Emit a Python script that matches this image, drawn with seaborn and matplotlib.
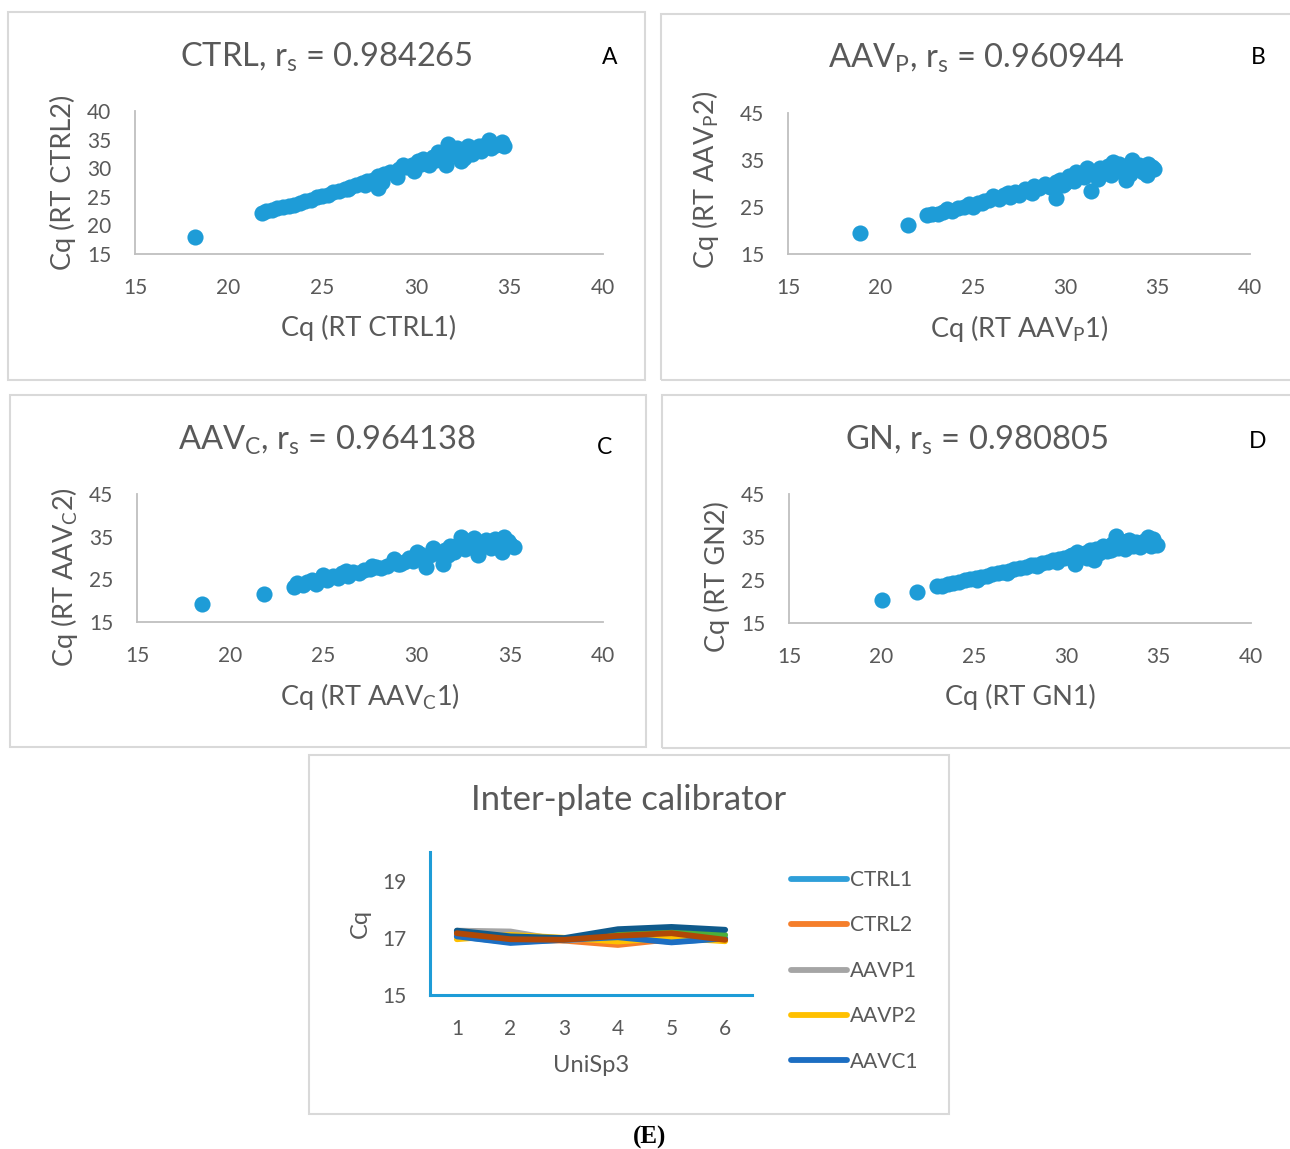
import numpy as np
import pandas as pd
import matplotlib
matplotlib.use("Agg")
import matplotlib.pyplot as plt
import matplotlib.patches as patches
import seaborn as sns

sns.set_style("white")
plt.rcParams['font.family'] = ['Lato', 'DejaVu Sans']
plt.rcParams['mathtext.fontset'] = 'custom'
plt.rcParams['mathtext.rm'] = 'Lato'

# ---- data ----
# panel A: CTRL
ctrl1 = [18.2, 21.8, 22.0, 22.3, 22.6, 22.9, 23.2, 23.5, 23.8, 24.1, 24.4, 24.7, 25.0, 25.3, 25.6,
         25.9, 26.2, 26.5, 26.8, 27.1, 27.4, 27.7, 28.0, 28.0, 28.2, 28.3, 28.6, 28.9, 29.1, 29.3,
         29.5, 29.8, 29.9, 30.1, 30.3, 30.5, 30.7, 30.9, 31.1, 31.3, 31.5, 31.6, 31.7, 31.8, 32.0,
         32.2, 32.4, 32.5, 32.8, 33.0, 33.2, 33.5, 33.7, 33.9, 34.0, 34.3, 34.6, 34.7,
         26.4, 27.3, 29.0, 30.4, 31.2, 32.6, 33.4]
ctrl2 = [18.0, 22.2, 22.5, 22.7, 23.0, 23.2, 23.4, 23.5, 23.9, 24.2, 24.5, 24.9, 25.1, 25.4, 25.8,
         26.0, 26.4, 26.8, 27.1, 27.4, 27.8, 28.0, 28.6, 26.5, 27.5, 29.0, 29.4, 29.3, 29.8, 30.6,
         30.2, 30.5, 29.5, 31.2, 30.7, 31.3, 30.5, 32.0, 31.5, 32.6, 32.0, 30.6, 34.3, 33.0, 32.5,
         33.5, 31.3, 33.2, 33.8, 32.5, 33.4, 33.0, 34.0, 35.0, 33.5, 34.0, 34.6, 33.9,
         26.3, 27.0, 28.5, 31.6, 32.9, 31.8, 33.9]

# panel B: AAV_P
aavp1 = [18.9, 21.5, 22.5, 22.8, 23.1, 23.4, 23.6, 23.9, 24.2, 24.5, 24.8, 25.0, 25.3, 25.6, 25.9,
         26.1, 26.4, 26.7, 27.0, 27.3, 27.5, 27.8, 28.0, 28.3, 28.6, 28.9, 29.2, 29.5, 29.5, 29.7,
         30.0, 30.2, 30.5, 30.8, 31.0, 31.2, 31.4, 31.5, 31.7, 31.9, 32.1, 32.3, 32.5, 32.7, 32.9,
         33.1, 33.3, 33.4, 33.6, 33.8, 34.0, 34.2, 34.4, 34.5, 34.7, 34.8,
         25.5, 26.9, 28.2, 29.9, 30.6, 31.8, 32.6, 33.5]
aavp2 = [19.4, 21.2, 23.3, 23.6, 23.5, 24.0, 24.6, 24.2, 24.8, 25.0, 25.6, 24.9, 25.8, 26.2, 26.5,
         27.3, 26.7, 27.6, 27.1, 28.2, 27.6, 28.9, 28.4, 29.5, 29.0, 29.8, 29.2, 26.9, 30.3, 30.8,
         30.2, 31.5, 30.6, 32.0, 31.3, 33.4, 28.3, 32.3, 31.6, 33.2, 32.6, 33.7, 31.8, 33.0, 34.1,
         32.5, 30.7, 33.6, 35.0, 33.0, 33.9, 32.5, 31.8, 34.2, 33.5, 33.0,
         25.9, 27.9, 28.0, 29.6, 32.4, 30.9, 34.5, 32.0]

# panel C: AAV_C
aavc1 = [18.5, 21.8, 23.4, 23.6, 23.9, 24.1, 24.4, 24.6, 24.9, 25.2, 25.5, 25.8, 26.0, 26.3, 26.6,
         26.9, 27.2, 27.5, 27.8, 28.1, 28.4, 28.8, 29.0, 29.3, 29.6, 29.8, 30.0, 30.3, 30.5, 30.7,
         30.9, 31.1, 31.4, 31.5, 31.8, 32.0, 32.3, 32.4, 32.6, 32.9, 33.1, 33.3, 33.4, 33.7, 33.9,
         34.2, 34.4, 34.6, 34.7, 34.9, 35.2, 35.0,
         25.0, 26.2, 27.6, 29.1, 30.2, 31.7, 32.8, 34.0]
aavc2 = [19.3, 21.5, 23.3, 24.2, 23.6, 24.4, 24.9, 24.0, 25.4, 24.8, 25.7, 25.3, 26.5, 25.8, 26.8,
         26.4, 27.2, 27.5, 27.9, 27.6, 28.1, 29.8, 28.5, 29.0, 30.1, 29.3, 31.5, 30.4, 27.8, 30.8,
         32.3, 31.2, 28.7, 31.8, 32.7, 31.4, 33.3, 35.0, 32.1, 33.6, 34.8, 30.7, 33.0, 34.2, 33.2,
         34.5, 33.6, 31.5, 35.0, 33.9, 32.6, 33.3,
         25.9, 26.9, 28.2, 28.6, 31.0, 30.6, 33.9, 32.4]

# panel D: GN
gn1 = [20.05, 21.9, 23.0, 23.3, 23.6, 23.9, 24.2, 24.5, 24.8, 25.1, 25.4, 25.7, 26.0, 26.3, 26.6,
       26.9, 27.2, 27.5, 27.8, 28.1, 28.4, 28.7, 29.0, 29.3, 29.6, 29.9, 30.2, 30.5, 30.6, 30.8,
       31.0, 31.3, 31.5, 31.6, 31.8, 32.0, 32.2, 32.5, 32.7, 32.8, 33.0, 33.2, 33.4, 33.6, 33.8,
       34.0, 34.2, 34.4, 34.5, 34.7, 34.9, 34.6,
       25.2, 26.8, 28.3, 29.5, 30.3, 31.1, 32.4, 33.3]
gn2 = [20.3, 22.2, 23.5, 23.6, 24.0, 24.3, 24.6, 24.9, 25.2, 25.5, 25.8, 26.0, 26.4, 26.6, 26.9,
       27.2, 27.5, 27.7, 28.0, 28.4, 28.2, 28.9, 29.2, 29.6, 29.9, 30.1, 30.6, 28.7, 31.5, 30.5,
       31.3, 31.9, 29.6, 32.3, 31.2, 32.8, 31.8, 33.4, 35.2, 32.4, 33.8, 32.1, 34.3, 33.0, 33.8,
       32.6, 34.0, 35.0, 33.3, 34.6, 33.1, 32.8,
       25.0, 26.7, 28.6, 29.2, 30.9, 30.2, 32.0, 34.0]

# panel E: inter-plate calibrator UniSp3
runs = [1, 2, 3, 4, 5, 6]
series_names = ['CTRL1', 'CTRL2', 'AAVP1', 'AAVP2', 'AAVC1', 'AAVC2', 'GN1', 'GN2']
cq_ctrl1 = [17.05, 16.85, 16.93, 17.02, 16.86, 16.98]
cq_ctrl2 = [17.10, 16.95, 16.90, 16.75, 16.95, 16.95]
cq_aavp1 = [17.25, 17.22, 16.90, 17.05, 17.10, 16.95]
cq_aavp2 = [16.95, 17.10, 17.00, 16.87, 17.00, 16.88]
cq_aavc1 = [17.05, 16.82, 16.93, 17.02, 16.84, 16.98]
cq_aavc2 = [17.20, 17.00, 16.95, 17.15, 17.20, 17.10]
cq_gn1 = [17.25, 17.05, 16.99, 17.30, 17.38, 17.28]
cq_gn2 = [17.16, 16.95, 16.93, 17.07, 17.16, 16.93]
line_colors = ['#2E9FD9', '#F57E2A', '#A5A5A5', '#FFC000', '#1C6EC2', '#4CAF3A', '#0F5A8C', '#B04806']

W, H = 1290, 1149
grey = '#595959'
dot = '#1E9CD7'

fig = plt.figure(figsize=(W / 100, H / 100), dpi=100)


def fx(x):
    return x / W


def fy(y):
    return 1 - y / H


def box(x0, y0, x1, y1):
    fig.add_artist(patches.Rectangle((fx(x0), fy(y1)), fx(x1) - fx(x0), fy(y0) - fy(y1),
                                     transform=fig.transFigure, fill=False,
                                     edgecolor='#D9D9D9', linewidth=1.5))


def axes_px(left, right, top, bottom):
    return fig.add_axes([fx(left), fy(bottom), fx(right) - fx(left), fy(top) - fy(bottom)])


def style_ax(ax, spine_color='#BFBFBF', lw=1.3, pad=17, size=15):
    for s in ['top', 'right']:
        ax.spines[s].set_visible(False)
    for s in ['left', 'bottom']:
        ax.spines[s].set_color(spine_color)
        ax.spines[s].set_linewidth(lw)
    ax.tick_params(length=0, labelsize=size, labelcolor=grey, pad=pad)
    ax.set_xlabel('')
    ax.set_ylabel('')
    ax.grid(False)
    ax.set_facecolor('none')


scatters = [
    dict(x=ctrl1, y=ctrl2, pos=(135, 603, 111, 254), ylim=(15, 40), yt=[15, 20, 25, 30, 35, 40],
         box=(8, 12, 645, 380), title='CTRL, r$_\\mathregular{s}$ = 0.984265', tpos=(326, 57),
         letter='A', lpos=(610, 57), xl='Cq (RT CTRL1)', xlpos=(369, 328),
         yl='Cq (RT CTRL2)', ylpos=(63, 182)),
    dict(x=aavp1, y=aavp2, pos=(788, 1250, 113, 254), ylim=(15, 45), yt=[15, 25, 35, 45],
         box=(661, 14, 1295, 380), title='AAV$_\\mathregular{P}$, r$_\\mathregular{s}$ = 0.960944',
         tpos=(976, 58), letter='B', lpos=(1258, 58), xl='Cq (RT AAV$_\\mathregular{P}$1)',
         xlpos=(1019, 329), yl='Cq (RT AAV$_\\mathregular{P}$2)', ylpos=(706, 180)),
    dict(x=aavc1, y=aavc2, pos=(137, 603, 494, 622), ylim=(15, 45), yt=[15, 25, 35, 45],
         box=(10, 395, 646, 747), title='AAV$_\\mathregular{C}$, r$_\\mathregular{s}$ = 0.964138',
         tpos=(327, 440), letter='C', lpos=(605, 448), xl='Cq (RT AAV$_\\mathregular{C}$1)',
         xlpos=(370, 696), yl='Cq (RT AAV$_\\mathregular{C}$2)', ylpos=(65, 577)),
    dict(x=gn1, y=gn2, pos=(789, 1251, 494, 623), ylim=(15, 45), yt=[15, 25, 35, 45],
         box=(662, 395, 1295, 748), title='GN, r$_\\mathregular{s}$ = 0.980805',
         tpos=(977, 440), letter='D', lpos=(1258, 441), xl='Cq (RT GN1)',
         xlpos=(1020, 697), yl='Cq (RT GN2)', ylpos=(717, 577)),
]

for p in scatters:
    box(*p['box'])
    ax = axes_px(*p['pos'])
    sns.scatterplot(x=p['x'], y=p['y'], ax=ax, color=dot, s=135, linewidth=0, alpha=1)
    ax.set_xlim(15, 40)
    ax.set_ylim(*p['ylim'])
    ax.set_xticks([15, 20, 25, 30, 35, 40])
    ax.set_yticks(p['yt'])
    style_ax(ax)
    fig.text(fx(p['tpos'][0]), fy(p['tpos'][1]), p['title'], ha='center', va='center',
             fontsize=23.5, color=grey)
    fig.text(fx(p['lpos'][0]), fy(p['lpos'][1]), p['letter'], ha='center', va='center',
             fontsize=16.5, color='black')
    fig.text(fx(p['xlpos'][0]), fy(p['xlpos'][1]), p['xl'], ha='center', va='center',
             fontsize=19.5, color=grey)
    fig.text(fx(p['ylpos'][0]), fy(p['ylpos'][1]), p['yl'], ha='center', va='center',
             fontsize=19.5, color=grey, rotation=90)

# ---- panel E ----
box(309, 755, 949, 1114)
all_cq = [cq_ctrl1, cq_ctrl2, cq_aavp1, cq_aavp2, cq_aavc1, cq_aavc2, cq_gn1, cq_gn2]
df_e = pd.DataFrame({
    'run': runs * len(series_names),
    'Cq': [v for s in all_cq for v in s],
    'plate': [n for n in series_names for _ in runs],
})
axe = axes_px(430, 752, 852, 995)
sns.lineplot(data=df_e, x='run', y='Cq', hue='plate', palette=line_colors, ax=axe,
             linewidth=4.2, legend=False, solid_capstyle='round', solid_joinstyle='round')
axe.set_xlim(0.5, 6.5)
axe.set_ylim(15, 20)
axe.set_xticks(runs)
axe.set_yticks([15, 17, 19])
style_ax(axe, spine_color='#1E9CD7', lw=2.2, pad=17, size=15)
fig.text(fx(629), fy(800), 'Inter-plate calibrator', ha='center', va='center',
         fontsize=25, color=grey)
fig.text(fx(591), fy(1066), 'UniSp3', ha='center', va='center', fontsize=17, color=grey)
fig.text(fx(360), fy(923), 'Cq', ha='center', va='center', fontsize=17, color=grey, rotation=90)

handles = axe.get_lines()[:5]
leg = axe.legend(handles, series_names[:5], loc='upper left',
                 bbox_to_anchor=(fx(791), fy(870)), bbox_transform=fig.transFigure,
                 frameon=False, fontsize=15, handlelength=2.7, handletextpad=0.12,
                 labelspacing=1.22, borderpad=0, borderaxespad=0)
for t in leg.get_texts():
    t.set_color(grey)
for lh in leg.get_lines():
    lh.set_linewidth(4.2)
    lh.set_solid_capstyle('round')

fig.text(fx(650), fy(1137), '(E)', ha='center', va='center', fontsize=18,
         family='Liberation Serif', fontweight='bold', color='black')

fig.savefig('out.png', dpi=100)
